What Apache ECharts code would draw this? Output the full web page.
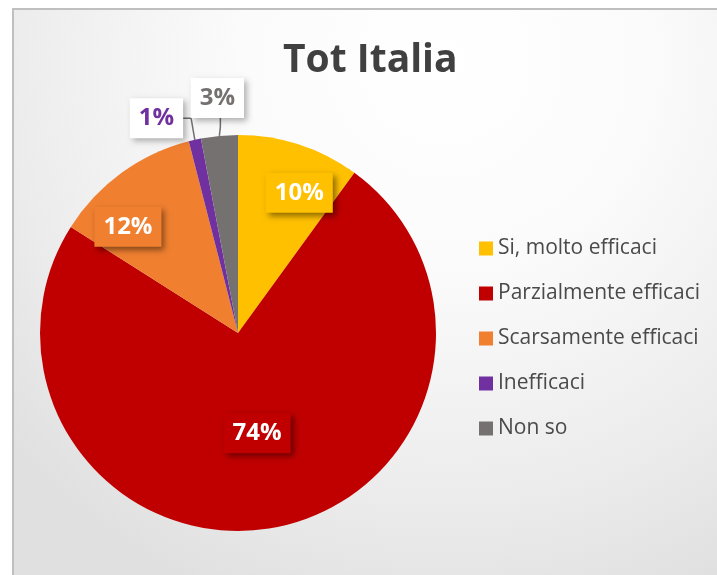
<!DOCTYPE html>
<html>
<head>
<meta charset="utf-8">
<title>Tot Italia</title>
<script src="https://cdn.jsdelivr.net/npm/echarts@6/dist/echarts.min.js"></script>
<style>
html, body { margin: 0; padding: 0; background: #ffffff; }
#chart { width: 717px; height: 575px; }
</style>
</head>
<body>
<div id="chart"></div>
<script>
// dati del grafico
var categories = ["Si, molto efficaci", "Parzialmente efficaci", "Scarsamente efficaci", "Inefficaci", "Non so"];
var values = [10, 74, 12, 1, 3];
var colors = ["#FFC000", "#C00000", "#F07F30", "#7030A0", "#767171"];

var FONT = "'Open Sans', 'DejaVu Sans', sans-serif";
var PIE_X = 238, PIE_Y = 333, PIE_R = 198;

// etichette fuori dalla torta per le fette piccole
var outside = [false, false, false, true, true];
// spostamento delle etichette interne: [fattore radiale, rotazione in gradi]
var push = [[1.5, -5.6], [1, 0], [1.5, 10], null, null];

var data = [];
for (var i = 0; i < values.length; i++) {
	var item = {
		name: categories[i],
		value: values[i],
		itemStyle: { color: colors[i] }
	};
	if (outside[i]) {
		item.label = {
			position: "outside",
			color: colors[i],
			backgroundColor: "#ffffff",
			shadowColor: "rgba(0,0,0,0.3)"
		};
		item.labelLine = { show: true, length: 17, length2: 8 };
	} else {
		item.label = {
			position: "inside",
			color: "#ffffff",
			backgroundColor: colors[i]
		};
	}
	data.push(item);
}

var chart = echarts.init(document.getElementById("chart"));

var option = {
	animation: false,
	graphic: [{
		type: "rect",
		z: -10,
		silent: true,
		shape: { x: 13, y: 9, width: 720, height: 580 },
		style: {
			fill: new echarts.graphic.RadialGradient(0.6, 0.09, 1, [
				{ offset: 0, color: "#ffffff" },
				{ offset: 0.35, color: "#fbfbfb" },
				{ offset: 0.75, color: "#ececec" },
				{ offset: 1, color: "#e0e0e0" }
			]),
			stroke: "#bfbfbf",
			lineWidth: 2
		}
	}],
	title: {
		text: "Tot Italia",
		left: 278,
		top: 36,
		textStyle: {
			fontFamily: FONT,
			fontWeight: "bold",
			fontSize: 39,
			color: "#404040"
		}
	},
	legend: {
		orient: "vertical",
		left: 474,
		top: 233,
		icon: "rect",
		itemWidth: 14,
		itemHeight: 14,
		itemGap: 24,
		data: categories,
		textStyle: {
			fontFamily: FONT,
			fontSize: 21,
			lineHeight: 20,
			color: "#4a4a4a"
		}
	},
	series: [{
		type: "pie",
		center: [PIE_X, PIE_Y],
		radius: PIE_R,
		startAngle: 90,
		clockwise: true,
		avoidLabelOverlap: false,
		label: {
			show: true,
			formatter: "{c}%",
			fontFamily: FONT,
			fontWeight: "bold",
			fontSize: 24,
			lineHeight: 24,
			padding: [8, 9],
			distanceToLabelLine: 0,
			shadowColor: "rgba(0,0,0,0.45)",
			shadowBlur: 6,
			shadowOffsetX: 3,
			shadowOffsetY: 3
		},
		labelLine: {
			lineStyle: { color: "#6f6f6f", width: 1.5 }
		},
		labelLayout: function (p) {
			var i = p.dataIndex;
			var r = p.labelRect;
			var pts = p.labelLinePoints;
			if (push[i] && push[i][0] !== 1) {
				var dx = r.x + r.width / 2 - PIE_X;
				var dy = r.y + r.height / 2 - PIE_Y;
				var k = push[i][0];
				var rot = -push[i][1] * Math.PI / 180;
				return {
					x: PIE_X + k * (dx * Math.cos(rot) - dy * Math.sin(rot)),
					y: PIE_Y + k * (dx * Math.sin(rot) + dy * Math.cos(rot)),
					align: "center",
					verticalAlign: "middle"
				};
			}
			if (i === 3 && pts) {
				return {
					x: pts[2][0],
					y: pts[2][1] - 5,
					align: "right",
					verticalAlign: "middle"
				};
			}
			if (i === 4 && pts) {
				// linea verticale verso il basso dell'etichetta
				var a = pts[0];
				return {
					x: a[0] - 2,
					y: a[1] - 18,
					align: "center",
					verticalAlign: "bottom",
					labelLinePoints: [[a[0], a[1]], [a[0] + 1, a[1] - 9], [a[0] + 1, a[1] - 18]]
				};
			}
		},
		data: data
	}]
};

chart.setOption(option);
</script>
</body>
</html>
